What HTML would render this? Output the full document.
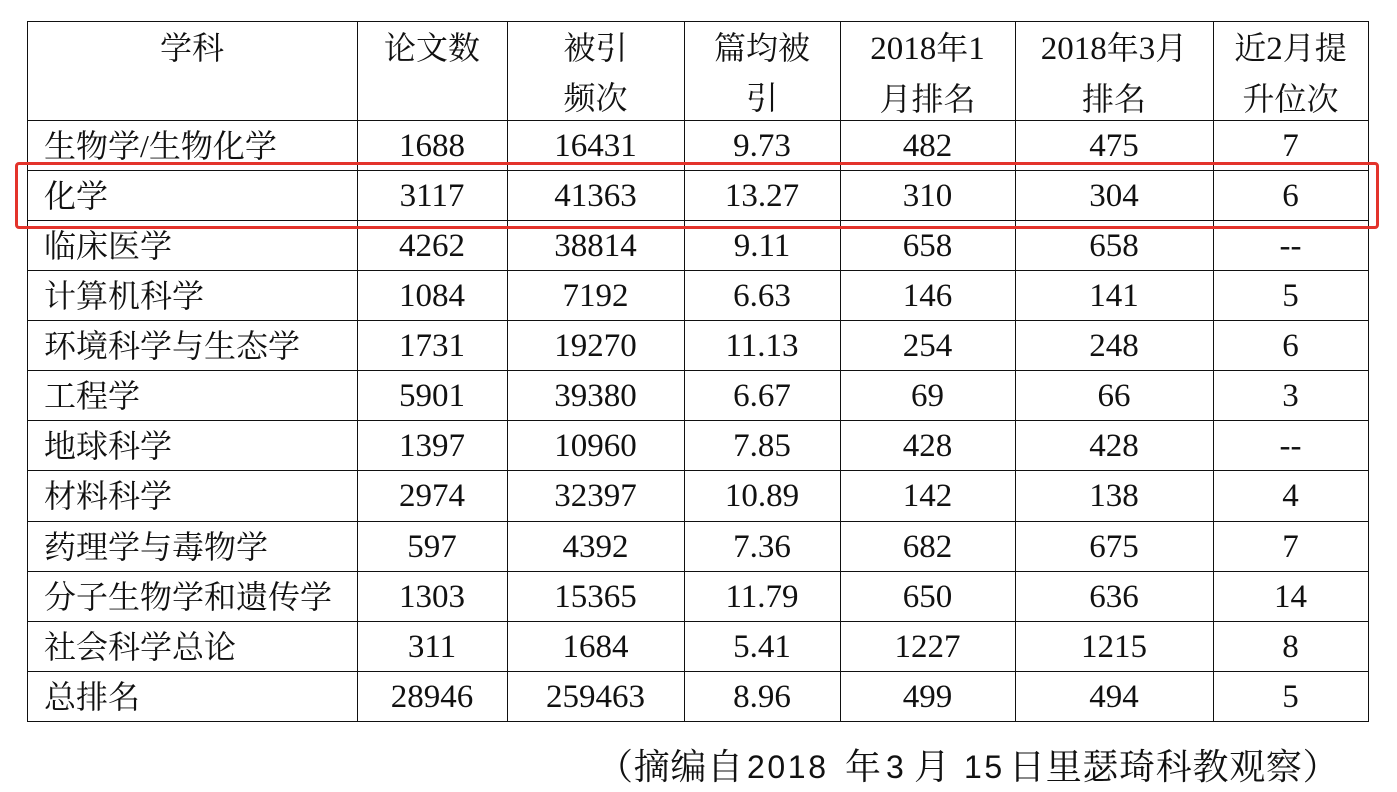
<!DOCTYPE html>
<html>
<head>
<meta charset="utf-8">
<style>
  html,body{margin:0;padding:0;background:#fff;}
  body{width:1397px;height:791px;position:relative;overflow:hidden;
       font-family:"Liberation Serif","Noto Serif CJK SC",serif;color:#111;}
  .v{position:absolute;top:21px;width:1px;height:701px;background:#111;}
  .h{position:absolute;left:27px;width:1342px;height:1px;background:#111;}
  .row{position:absolute;left:27px;height:50px;display:flex;line-height:50px;white-space:nowrap;}
  .row div{flex:none;text-align:center;font-size:33px;}
  .row .a{width:330px;text-align:left;padding-left:17px;box-sizing:border-box;font-size:32px;}
  .row .b{width:150px;}
  .row .c{width:177px;}
  .row .d{width:156px;}
  .row .e{width:175px;}
  .row .f{width:198px;}
  .row .g{width:155px;}
  .hd{position:absolute;left:27px;top:23px;display:flex;line-height:50px;white-space:nowrap;}
  .hd div{flex:none;text-align:center;font-size:32px;}
  .hd .a{width:330px;}
  .hd .b{width:150px;}
  .hd .c{width:177px;}
  .hd .d{width:156px;}
  .hd .e{width:175px;}
  .hd .f{width:198px;}
  .hd .g{width:155px;}
  .n{font-size:33px;}
  .red{position:absolute;left:15px;top:162px;width:1364px;height:67px;box-sizing:border-box;
       border:3px solid #e3332b;border-radius:4px;}
  .fn{position:absolute;top:742px;line-height:50px;white-space:nowrap;font-size:36px;letter-spacing:0.7px;}
  .fd{position:absolute;top:742px;line-height:50px;white-space:nowrap;font-family:"Liberation Sans",sans-serif;font-size:32px;letter-spacing:2.6px;}
</style>
</head>
<body>
<!-- grid lines -->
<div class="v" style="left:27px"></div>
<div class="v" style="left:357px"></div>
<div class="v" style="left:507px"></div>
<div class="v" style="left:684px"></div>
<div class="v" style="left:840px"></div>
<div class="v" style="left:1015px"></div>
<div class="v" style="left:1213px"></div>
<div class="v" style="left:1368px"></div>

<div class="h" style="top:21px"></div>
<div class="h" style="top:120px"></div>
<div class="h" style="top:170px"></div>
<div class="h" style="top:220px"></div>
<div class="h" style="top:270px"></div>
<div class="h" style="top:320px"></div>
<div class="h" style="top:370px"></div>
<div class="h" style="top:420px"></div>
<div class="h" style="top:470px"></div>
<div class="h" style="top:521px"></div>
<div class="h" style="top:571px"></div>
<div class="h" style="top:621px"></div>
<div class="h" style="top:671px"></div>
<div class="h" style="top:721px"></div>

<!-- header -->
<div class="hd">
  <div class="a">学科</div>
  <div class="b">论文数</div>
  <div class="c">被引<br>频次</div>
  <div class="d">篇均被<br>引</div>
  <div class="e"><span class="n">2018</span>年<span class="n">1</span><br>月排名</div>
  <div class="f"><span class="n">2018</span>年<span class="n">3</span>月<br>排名</div>
  <div class="g">近<span class="n">2</span>月提<br>升位次</div>
</div>

<!-- body rows -->
<div class="row" style="top:121px"><div class="a">生物学/生物化学</div><div class="b">1688</div><div class="c">16431</div><div class="d">9.73</div><div class="e">482</div><div class="f">475</div><div class="g">7</div></div>
<div class="row" style="top:171px"><div class="a">化学</div><div class="b">3117</div><div class="c">41363</div><div class="d">13.27</div><div class="e">310</div><div class="f">304</div><div class="g">6</div></div>
<div class="row" style="top:221px"><div class="a">临床医学</div><div class="b">4262</div><div class="c">38814</div><div class="d">9.11</div><div class="e">658</div><div class="f">658</div><div class="g">--</div></div>
<div class="row" style="top:271px"><div class="a">计算机科学</div><div class="b">1084</div><div class="c">7192</div><div class="d">6.63</div><div class="e">146</div><div class="f">141</div><div class="g">5</div></div>
<div class="row" style="top:321px"><div class="a">环境科学与生态学</div><div class="b">1731</div><div class="c">19270</div><div class="d">11.13</div><div class="e">254</div><div class="f">248</div><div class="g">6</div></div>
<div class="row" style="top:371px"><div class="a">工程学</div><div class="b">5901</div><div class="c">39380</div><div class="d">6.67</div><div class="e">69</div><div class="f">66</div><div class="g">3</div></div>
<div class="row" style="top:421px"><div class="a">地球科学</div><div class="b">1397</div><div class="c">10960</div><div class="d">7.85</div><div class="e">428</div><div class="f">428</div><div class="g">--</div></div>
<div class="row" style="top:471px"><div class="a">材料科学</div><div class="b">2974</div><div class="c">32397</div><div class="d">10.89</div><div class="e">142</div><div class="f">138</div><div class="g">4</div></div>
<div class="row" style="top:522px"><div class="a">药理学与毒物学</div><div class="b">597</div><div class="c">4392</div><div class="d">7.36</div><div class="e">682</div><div class="f">675</div><div class="g">7</div></div>
<div class="row" style="top:572px"><div class="a">分子生物学和遗传学</div><div class="b">1303</div><div class="c">15365</div><div class="d">11.79</div><div class="e">650</div><div class="f">636</div><div class="g">14</div></div>
<div class="row" style="top:622px"><div class="a">社会科学总论</div><div class="b">311</div><div class="c">1684</div><div class="d">5.41</div><div class="e">1227</div><div class="f">1215</div><div class="g">8</div></div>
<div class="row" style="top:672px"><div class="a">总排名</div><div class="b">28946</div><div class="c">259463</div><div class="d">8.96</div><div class="e">499</div><div class="f">494</div><div class="g">5</div></div>

<!-- red highlight box -->
<div class="red"></div>

<!-- footnote -->
<div class="fn" style="left:597px">（摘编自</div>
<div class="fd" style="left:747px">2018</div>
<div class="fn" style="left:845px">年</div>
<div class="fd" style="left:886px">3</div>
<div class="fn" style="left:914px">月</div>
<div class="fd" style="left:964px">15</div>
<div class="fn" style="left:1009px">日里瑟琦科教观察）</div>
</body>
</html>
